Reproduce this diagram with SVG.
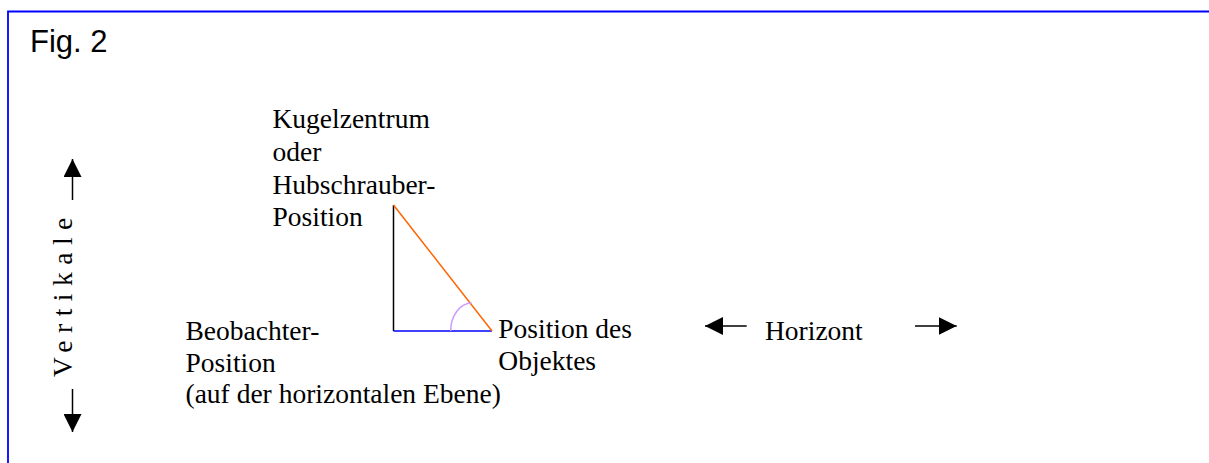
<svg xmlns="http://www.w3.org/2000/svg" width="1209" height="463" viewBox="0 0 1209 463">
<style>
.t{font-family:"Liberation Serif","Times New Roman",serif;font-size:27.5px;fill:#000}
.ar{stroke:#000;stroke-width:1.5;fill:none}
</style>
<defs>
<marker id="ah" markerUnits="userSpaceOnUse" markerWidth="18" markerHeight="18" refX="18" refY="9" orient="auto">
<path d="M0,0 L18,9 L0,18 z" fill="#000"/>
</marker>
</defs>
<rect width="1209" height="463" fill="#fff"/>
<g id="frame">
<path d="M8,463 L8,11.5 L1209,11.5" fill="none" stroke="#0000FF" stroke-width="1.8"/>
<text x="30" y="52" style="font-family:'Liberation Sans',Arial,sans-serif;font-size:31px;fill:#000">Fig. 2</text>
</g>
<g id="triangle">
<line x1="393.5" y1="205" x2="393.5" y2="331" stroke="#000" stroke-width="1.5"/>
<line x1="393.5" y1="331" x2="492" y2="331" stroke="#0000FF" stroke-width="1.5"/>
<line x1="393.5" y1="205" x2="492" y2="331" stroke="#FF6600" stroke-width="1.5"/>
<path d="M450.7,331 A21,28 0 0 1 471.7,303" fill="none" stroke="#CC99FF" stroke-width="1.5"/>
</g>
<g id="label-top">
<text class="t" x="272.5" y="128.3">Kugelzentrum</text>
<text class="t" x="272.5" y="161">oder</text>
<text class="t" x="272.5" y="193.5">Hubschrauber-</text>
<text class="t" x="272.5" y="226">Position</text>
</g>
<g id="label-observer">
<text class="t" x="185.5" y="340">Beobachter-</text>
<text class="t" x="185.5" y="371.7">Position</text>
<text class="t" x="185.5" y="403.3">(auf der horizontalen Ebene)</text>
</g>
<g id="label-object">
<text class="t" x="498.3" y="338.3">Position des</text>
<text class="t" x="498.3" y="370">Objektes</text>
</g>
<g id="label-horizont">
<text class="t" x="765" y="340">Horizont</text>
</g>
<g id="label-vertikale">
<text class="t" transform="translate(72,377) rotate(-90)" x="0" y="0" style="letter-spacing:7.5px">Vertikale</text>
</g>
<g id="connectors">
<line class="ar" x1="72.5" y1="200" x2="72.5" y2="159" marker-end="url(#ah)"/>
<line class="ar" x1="72.5" y1="389" x2="72.5" y2="432" marker-end="url(#ah)"/>
<line class="ar" x1="746.7" y1="326" x2="705" y2="326" marker-end="url(#ah)"/>
<line class="ar" x1="915" y1="326" x2="956.7" y2="326" marker-end="url(#ah)"/>
</g>
</svg>
